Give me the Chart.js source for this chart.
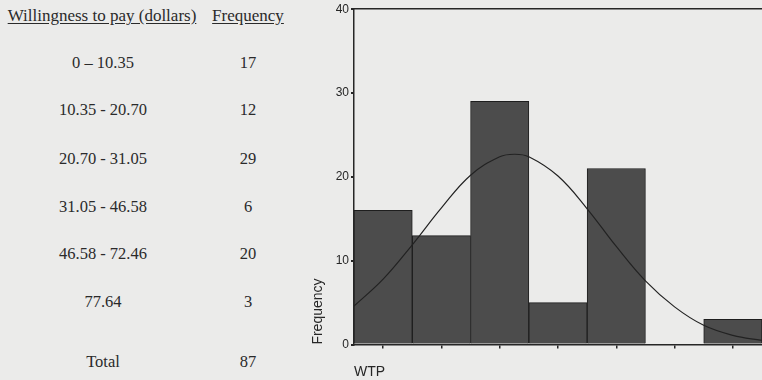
<!DOCTYPE html>
<html>
<head>
<meta charset="utf-8">
<script src="https://cdn.jsdelivr.net/npm/chart.js@4.4.1/dist/chart.umd.min.js"></script>
<style>
  html, body { margin: 0; padding: 0; background: #ebebea; }
  #page { position: relative; width: 762px; height: 380px; overflow: hidden; background: #ebebea; }
  .t { position: absolute; font-family: "Liberation Serif", "Times New Roman", serif; font-size: 16.5px; color: #2a2a2a; white-space: nowrap; transform: translate(-50%, -50%); }
  .u { font-size: 17px; text-decoration: underline; text-underline-offset: 2px; }
  #wrap { position: absolute; left: 300px; top: 0; width: 462px; height: 380px; }
</style>
</head>
<body>
<div id="page">
  <div id="table"></div>
  <div id="wrap"><canvas id="histChart" width="462" height="380"></canvas></div>
</div>
<script>
// table on the left
var tableHeaders = ['Willingness to pay (dollars)', 'Frequency'];
var wtpRanges = ['0 \u2013 10.35', '10.35 - 20.70', '20.70 - 31.05', '31.05 - 46.58', '46.58 - 72.46', '77.64', 'Total'];
var rangeFreqs = ['17', '12', '29', '6', '20', '3', '87'];
var rowY = [63, 110, 159, 207, 254, 302, 362];

// histogram (bins in units of bin width, centres at 0.5 .. 6.5)
var binCenters = [0.5, 1.5, 2.5, 3.5, 4.5, 5.5, 6.5];
var binCounts = [16, 13, 29, 5, 21, 0, 3];
var yTicks = [0, 10, 20, 30, 40];

// normal curve (x in bin widths from the left edge)
var curveX = [0, 0.5, 1, 1.5, 2, 2.5, 2.75, 3, 3.5, 4, 4.5, 5, 5.5, 6, 6.5, 7];
var curveY = [4.6, 7.8, 11.9, 16.3, 20.2, 22.4, 22.7, 22.4, 20.1, 16.2, 11.7, 7.6, 4.5, 2.3, 1.1, 0.5];

var tbl = document.getElementById('table');
function addText(txt, x, y, cls) {
    var d = document.createElement('div');
    d.className = 't' + (cls ? ' ' + cls : '');
    d.style.left = x + 'px';
    d.style.top = y + 'px';
    d.textContent = txt;
    tbl.appendChild(d);
}
addText(tableHeaders[0], 102, 16, 'u');
addText(tableHeaders[1], 248, 16, 'u');
for (var i = 0; i < wtpRanges.length; i++) {
    addText(wtpRanges[i], 103, rowY[i]);
    addText(rangeFreqs[i], 248, rowY[i]);
}

var ink = '#262626';
var ctx = document.getElementById('histChart').getContext('2d');
var histChart = new Chart(ctx, {
    type: 'bar',
    data: {
        datasets: [{
            label: 'Frequency',
            data: binCenters.map(function (x, i) { return { x: x, y: binCounts[i] }; }),
            backgroundColor: '#4c4c4c',
            borderColor: '#1e1e1e',
            borderWidth: 1,
            barPercentage: 1,
            categoryPercentage: 1,
            order: 2
        }, {
            type: 'line',
            label: 'Normal',
            data: curveX.map(function (x, i) { return { x: x, y: curveY[i] }; }),
            borderColor: '#222',
            borderWidth: 1.2,
            pointRadius: 0,
            tension: 0.4,
            fill: false,
            order: 1
        }]
    },
    options: {
        responsive: false,
        animation: false,
        layout: { padding: 0 },
        plugins: { legend: { display: false }, tooltip: { enabled: false } },
        scales: {
            x: {
                type: 'linear', min: 0, max: 7, offset: false,
                afterBuildTicks: function (s) { s.ticks = binCenters.map(function (v) { return { value: v }; }); },
                grid: { offset: false, drawOnChartArea: false, tickLength: 4, color: ink, lineWidth: 1.5 },
                border: { color: ink, width: 1.5 },
                ticks: { display: false },
                title: {
                    display: true, text: 'WTP', align: 'start', color: ink,
                    font: { family: 'Liberation Sans, Arial', size: 14, lineHeight: 1.1 },
                    padding: { top: 16, bottom: 0 }
                }
            },
            xt: {
                type: 'linear', position: 'top', min: 0, max: 7, offset: false,
                grid: { display: false },
                border: { color: ink, width: 1.5 },
                ticks: { display: false }
            },
            y: {
                min: 0, max: 40,
                afterBuildTicks: function (s) { s.ticks = yTicks.map(function (v) { return { value: v }; }); },
                afterFit: function (s) { s.width = 54; },
                grid: { drawOnChartArea: false, tickLength: 3, color: ink, lineWidth: 2 },
                border: { color: ink, width: 1.5 },
                ticks: { color: ink, padding: 2, font: { family: 'Liberation Sans, Arial', size: 12 } },
                title: {
                    display: true, text: 'Frequency', align: 'start', color: ink,
                    font: { family: 'Liberation Sans, Arial', size: 14, lineHeight: 1.2 },
                    padding: { top: 10, bottom: 0 }
                }
            }
        }
    }
});
</script>
</body>
</html>
